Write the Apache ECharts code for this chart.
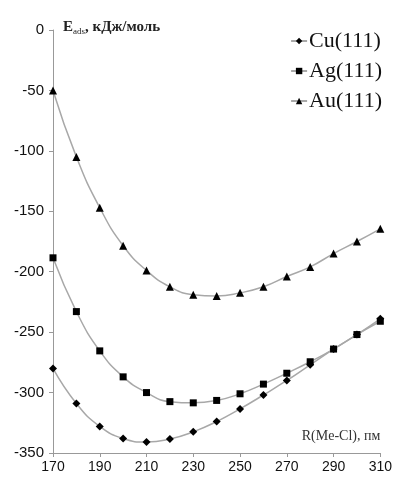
<!DOCTYPE html>
<html>
<head>
<meta charset="utf-8">
<script src="https://cdn.jsdelivr.net/npm/echarts@6/dist/echarts.min.js"></script>
<style>
  html, body { margin: 0; padding: 0; background: #fff; }
  #chart { width: 395px; height: 480px; }
</style>
</head>
<body>
<div id="chart"></div>
<script>
// расстояние Me-Cl, пм
const rValues = [170, 180, 190, 200, 210, 220, 230, 240, 250, 260, 270, 280, 290, 300, 310];

// энергия адсорбции, кДж/моль
const cuValues = [-280, -309, -328, -338, -341, -338.5, -332.5, -324, -313.5, -302, -290, -277, -264, -252, -239];
const agValues = [-188.5, -233, -265.5, -287, -300, -307.5, -308.5, -306.5, -301, -293, -284, -274.5, -264, -252, -241];
const auValues = [-50, -105, -147, -178.5, -199, -212.5, -219, -220, -217.5, -212.5, -204, -196, -185, -175, -164.5];

const seriesNames = ['Cu(111)', 'Ag(111)', 'Au(111)'];

const chart = echarts.init(document.getElementById('chart'));

function pairs(vals) {
  return rValues.map((r, i) => [r, vals[i]]);
}

const lineStyle = { color: '#a8a8a8', width: 1.5 };
const markerStyle = { color: '#000' };

chart.setOption({
  animation: false,
  backgroundColor: '#fff',
  grid: { left: 53, right: 14, top: 30, bottom: 27 },
  legend: {
    orient: 'vertical',
    right: 8,
    top: 25,
    itemGap: 8,
    itemWidth: 16,
    itemHeight: 8,
    data: seriesNames,
    textStyle: { fontFamily: 'Liberation Serif', fontSize: 22, color: '#111', padding: [0, 0, 0, -3] }
  },
  xAxis: {
    type: 'value',
    min: 170,
    max: 310,
    interval: 20,
    name: 'R(Me-Cl), пм',
    nameLocation: 'end',
    nameGap: 0,
    nameTextStyle: {
      fontFamily: 'Liberation Serif', fontSize: 14, color: '#333',
      align: 'right', verticalAlign: 'bottom', padding: [0, 0, 10, 0]
    },
    axisLine: { onZero: false, lineStyle: { color: '#999', width: 1 } },
    axisTick: { lineStyle: { color: '#999' }, length: 4 },
    axisLabel: { fontFamily: 'Liberation Sans', fontSize: 14, color: '#111', margin: 7 },
    splitLine: { show: false }
  },
  yAxis: {
    type: 'value',
    min: -350,
    max: 0,
    interval: 50,
    name: '{e|E}{s|ads}{e|, кДж/моль}',
    nameLocation: 'end',
    nameGap: 0,
    nameTextStyle: {
      align: 'left', verticalAlign: 'bottom', padding: [0, 0, -5, 10],
      rich: {
        e: { fontFamily: 'Liberation Serif', fontSize: 15, fontWeight: 'bold', color: '#222' },
        s: { fontFamily: 'Liberation Serif', fontSize: 9, color: '#222', verticalAlign: 'bottom', padding: [0, 0, -1, 0] }
      }
    },
    axisLine: { show: true, onZero: false, lineStyle: { color: '#999', width: 1 } },
    axisTick: { show: true, lineStyle: { color: '#999' }, length: 4 },
    axisLabel: { fontFamily: 'Liberation Sans', fontSize: 15, color: '#111', margin: 9 },
    splitLine: { show: false }
  },
  series: [
    {
      name: seriesNames[0], type: 'line', smooth: true,
      symbol: 'diamond', symbolSize: 8,
      data: pairs(cuValues), lineStyle, itemStyle: markerStyle
    },
    {
      name: seriesNames[1], type: 'line', smooth: true,
      symbol: 'rect', symbolSize: 7,
      data: pairs(agValues), lineStyle, itemStyle: markerStyle
    },
    {
      name: seriesNames[2], type: 'line', smooth: true,
      symbol: 'triangle', symbolSize: 8,
      data: pairs(auValues), lineStyle, itemStyle: markerStyle
    }
  ]
});
</script>
</body>
</html>
